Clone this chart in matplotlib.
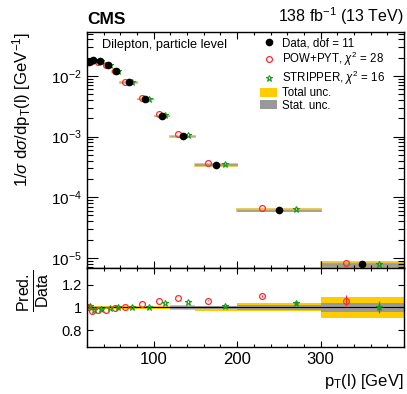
import numpy as np
import matplotlib
matplotlib.use('Agg')
import matplotlib.pyplot as plt
from matplotlib.patches import Patch
from matplotlib.lines import Line2D
from matplotlib.ticker import LogLocator, NullFormatter, FixedLocator, MultipleLocator

plt.rcParams['font.family'] = ['Liberation Sans', 'DejaVu Sans']
plt.rcParams['mathtext.fontset'] = 'custom'
plt.rcParams['mathtext.rm'] = 'Liberation Sans'
plt.rcParams['mathtext.it'] = 'Liberation Sans:italic'
plt.rcParams['mathtext.bf'] = 'Liberation Sans:bold'

# bins in pT(l) [GeV]
edges = [20, 25, 30, 40, 50, 60, 80, 100, 120, 150, 200, 300, 400]

# normalised cross section
data = [0.0168, 0.0184, 0.0177, 0.0152, 0.0119, 0.00787, 0.00418, 0.00219,
        0.00102, 3.42e-4, 6.14e-5, 7.8e-6]
pow_pyt = [0.01688, 0.01779, 0.01728, 0.01493, 0.01185, 0.00791, 0.004305,
           0.002321, 0.001102, 3.622e-4, 6.754e-5, 8.26e-6]
stripper = [0.01705, 0.01807, 0.01743, 0.01514, 0.0119, 0.00787, 0.004213,
            0.002269, 0.001071, 3.468e-4, 6.386e-5, 7.84e-6]

# relative uncertainties of the data
tot_up = [0.015, 0.012, 0.010, 0.010, 0.010, 0.012, 0.012, 0.015, 0.020, 0.015, 0.040, 0.094]
tot_dn = [0.015, 0.012, 0.010, 0.010, 0.010, 0.012, 0.012, 0.015, 0.020, 0.033, 0.034, 0.092]
stat_unc = [0.005, 0.004, 0.004, 0.004, 0.005, 0.005, 0.006, 0.008, 0.010, 0.014, 0.018, 0.043]

# MC stat errors on the ratio
pow_err = [0, 0, 0, 0, 0, 0, 0, 0, 0, 0.005, 0.01, 0.05]
str_err = [0, 0, 0, 0, 0, 0, 0, 0, 0, 0.005, 0.02, 0.055]

xticks = [100, 200, 300]

edges = np.array(edges, dtype=float)
data = np.array(data)
pow_pyt = np.array(pow_pyt)
stripper = np.array(stripper)
tot_up = np.array(tot_up)
tot_dn = np.array(tot_dn)
stat_unc = np.array(stat_unc)

lo = edges[:-1]
w = np.diff(edges)
cen = lo + w / 2
x_pow = cen - 0.2 * w
x_str = cen + 0.2 * w

YELLOW = '#ffcc00'
GREY = '#999999'
RED = '#ff2a2a'
GREEN = '#1a9a1a'

fig = plt.figure(figsize=(4.07, 3.94), dpi=100)
ax = fig.add_axes([0.2138, 0.3198, 0.7788, 0.599])
rax = fig.add_axes([0.2138, 0.1193, 0.7788, 0.2005])

# --- main panel (bands get a thin edge so they stay visible on the log scale)
ax.bar(lo, data * (tot_up + tot_dn), width=w, bottom=data * (1 - tot_dn),
       align='edge', color=YELLOW, edgecolor='#e8c040', lw=1.2)
ax.bar(lo, data * 2 * stat_unc, width=w, bottom=data * (1 - stat_unc),
       align='edge', color=GREY, edgecolor=GREY, lw=0.4)
ax.plot(x_pow, pow_pyt, 'o', mfc='none', mec=RED, ms=4.2, mew=0.9)
ax.plot(x_str, stripper, '*', mfc='none', mec=GREEN, ms=5, mew=0.8)
ax.plot(cen, data, 'o', color='black', ms=4.5)

ax.set_yscale('log')
ax.set_xlim(20, 400)
ax.set_ylim(6.8e-6, 5.3e-2)
ax.yaxis.set_major_locator(LogLocator(base=10, numticks=10))
ax.yaxis.set_minor_locator(LogLocator(base=10, subs=np.arange(2, 10), numticks=20))
ax.yaxis.set_minor_formatter(NullFormatter())
ax.xaxis.set_major_locator(FixedLocator(xticks))
ax.xaxis.set_minor_locator(MultipleLocator(20))
ax.tick_params(axis='x', labelbottom=False)
ax.set_ylabel(r'1/$\sigma$ d$\sigma$/dp$_{\rm T}$(l) [GeV$^{-1}$]', fontsize=12,
              loc='top')
ax.yaxis.set_label_coords(-0.17, 1.0)

ax.text(0.047, 0.972, 'Dilepton, particle level', transform=ax.transAxes,
        fontsize=9.2, va='top', ha='left')
ax.text(0.0, 1.02, 'CMS', transform=ax.transAxes, fontsize=12.5,
        fontweight='bold', ha='left', va='bottom')
ax.text(1.0, 1.02, r'138 fb$^{-1}$ (13 TeV)', transform=ax.transAxes,
        fontsize=11.5, ha='right', va='bottom')

handles = [
    Line2D([], [], ls='none', marker='o', color='black', ms=4.5),
    Line2D([], [], ls='none', marker='o', mfc='none', mec=RED, ms=4.2, mew=0.9),
    Line2D([], [], ls='none', marker='*', mfc='none', mec=GREEN, ms=5, mew=0.8),
    Patch(facecolor=YELLOW, lw=0),
    Patch(facecolor=GREY, lw=0),
]
labels = ['Data, dof = 11', r'POW+PYT, $\chi^2$ = 28', r'STRIPPER, $\chi^2$ = 16',
          'Total unc.', 'Stat. unc.']
ax.legend(handles, labels, loc='upper left', bbox_to_anchor=(0.547, 0.978),
          frameon=False, fontsize=8.3, handlelength=1.45, handleheight=0.8,
          handletextpad=0.4, labelspacing=0.05, borderaxespad=0, borderpad=0)

# --- ratio panel
rax.bar(lo, tot_up + tot_dn, width=w, bottom=1 - tot_dn, align='edge',
        color=YELLOW, lw=0)
rax.bar(lo, 2 * stat_unc, width=w, bottom=1 - stat_unc, align='edge',
        color=GREY, lw=0)
rax.axhline(1, color='black', lw=0.8)
rax.errorbar(x_pow, pow_pyt / data, yerr=pow_err, fmt='o', mfc='none', mec=RED,
             ecolor=RED, ms=4.2, mew=0.9, elinewidth=0.9, capsize=0)
rax.errorbar(x_str, stripper / data, yerr=str_err, fmt='*', mfc='none', mec=GREEN,
             ecolor=GREEN, ms=5, mew=0.8, elinewidth=0.9, capsize=0)

rax.set_xlim(20, 400)
rax.set_ylim(0.65, 1.35)
rax.xaxis.set_major_locator(FixedLocator(xticks))
rax.xaxis.set_minor_locator(MultipleLocator(20))
rax.yaxis.set_major_locator(FixedLocator([0.8, 1.0, 1.2]))
rax.set_yticklabels(['0.8', '1', '1.2'])
rax.set_xlabel(r'p$_{\rm T}$(l) [GeV]', fontsize=12, loc='right')
rax.set_ylabel(r'$\frac{\mathrm{Pred.}}{\mathrm{Data}}$', fontsize=16.5)
rax.yaxis.set_label_coords(-0.115, 0.72)

for a in (ax, rax):
    a.tick_params(which='both', direction='in', top=True, right=True, width=0.8)
    for s in a.spines.values():
        s.set_linewidth(1.0)
ax.tick_params(axis='y', which='major', length=8, labelsize=11)
ax.tick_params(axis='y', which='minor', length=4)
ax.tick_params(axis='x', which='major', length=5)
ax.tick_params(axis='x', which='minor', length=2.5)
rax.tick_params(axis='both', which='major', length=4)
rax.tick_params(axis='both', which='minor', length=2)
rax.tick_params(axis='x', labelsize=12)
rax.tick_params(axis='y', labelsize=10.5)

fig.savefig('out.png', dpi=100)
